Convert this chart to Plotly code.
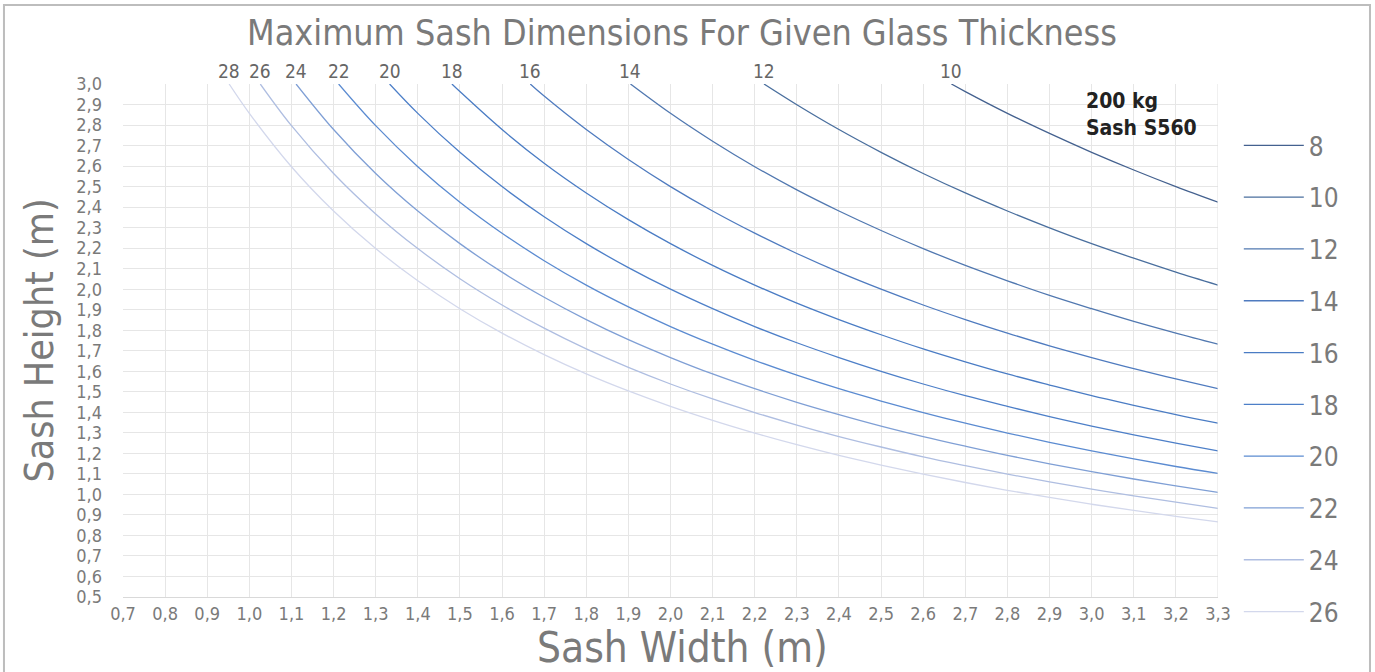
import plotly.graph_objects as go

# Series names as they appear in the legend, and the labels written on top of each curve
legend_names = ["8", "10", "12", "14", "16", "18", "20", "22", "24", "26"]
curve_labels = ["10", "12", "14", "16", "18", "20", "22", "24", "26", "28"]
line_colors = ["#44618f", "#4a6f9e", "#5178b0", "#4f7bbf", "#4a7cc4", "#4d7fc8",
               "#5b8bd1", "#7f9fd5", "#afbee1", "#d3d8ec"]

# Sash width (m) / sash height (m), one list per curve
w_10 = [2.667, 2.7, 2.8, 2.9, 3.0, 3.1, 3.2, 3.3]
h_10 = [3.0, 2.963, 2.857, 2.759, 2.667, 2.581, 2.5, 2.424]

w_12 = [2.222, 2.3, 2.4, 2.5, 2.6, 2.7, 2.8, 2.9, 3.0, 3.1, 3.2, 3.3]
h_12 = [3.0, 2.899, 2.778, 2.667, 2.564, 2.469, 2.381, 2.299, 2.222, 2.151, 2.083, 2.02]

w_14 = [1.905, 2.0, 2.1, 2.2, 2.3, 2.4, 2.5, 2.6, 2.7, 2.8, 2.9, 3.0, 3.1, 3.2, 3.3]
h_14 = [3.0, 2.857, 2.721, 2.597, 2.484, 2.381, 2.286, 2.198, 2.116, 2.041, 1.97, 1.905,
        1.843, 1.786, 1.732]

w_16 = [1.667, 1.7, 1.8, 1.9, 2.0, 2.1, 2.2, 2.3, 2.4, 2.5, 2.6, 2.7, 2.8, 2.9, 3.0, 3.1,
        3.2, 3.3]
h_16 = [3.0, 2.941, 2.778, 2.632, 2.5, 2.381, 2.273, 2.174, 2.083, 2.0, 1.923, 1.852, 1.786,
        1.724, 1.667, 1.613, 1.563, 1.515]

w_18 = [1.481, 1.5, 1.6, 1.7, 1.8, 1.9, 2.0, 2.1, 2.2, 2.3, 2.4, 2.5, 2.6, 2.7, 2.8, 2.9,
        3.0, 3.1, 3.2, 3.3]
h_18 = [3.0, 2.963, 2.778, 2.614, 2.469, 2.339, 2.222, 2.116, 2.02, 1.932, 1.852, 1.778,
        1.709, 1.646, 1.587, 1.533, 1.481, 1.434, 1.389, 1.347]

w_20 = [1.333, 1.4, 1.5, 1.6, 1.7, 1.8, 1.9, 2.0, 2.1, 2.2, 2.3, 2.4, 2.5, 2.6, 2.7, 2.8,
        2.9, 3.0, 3.1, 3.2, 3.3]
h_20 = [3.0, 2.857, 2.667, 2.5, 2.353, 2.222, 2.105, 2.0, 1.905, 1.818, 1.739, 1.667, 1.6,
        1.538, 1.481, 1.429, 1.379, 1.333, 1.29, 1.25, 1.212]

w_22 = [1.212, 1.3, 1.4, 1.5, 1.6, 1.7, 1.8, 1.9, 2.0, 2.1, 2.2, 2.3, 2.4, 2.5, 2.6, 2.7,
        2.8, 2.9, 3.0, 3.1, 3.2, 3.3]
h_22 = [3.0, 2.797, 2.597, 2.424, 2.273, 2.139, 2.02, 1.914, 1.818, 1.732, 1.653, 1.581,
        1.515, 1.455, 1.399, 1.347, 1.299, 1.254, 1.212, 1.173, 1.136, 1.102]

w_24 = [1.111, 1.2, 1.3, 1.4, 1.5, 1.6, 1.7, 1.8, 1.9, 2.0, 2.1, 2.2, 2.3, 2.4, 2.5, 2.6,
        2.7, 2.8, 2.9, 3.0, 3.1, 3.2, 3.3]
h_24 = [3.0, 2.778, 2.564, 2.381, 2.222, 2.083, 1.961, 1.852, 1.754, 1.667, 1.587, 1.515,
        1.449, 1.389, 1.333, 1.282, 1.235, 1.19, 1.149, 1.111, 1.075, 1.042, 1.01]

w_26 = [1.026, 1.1, 1.2, 1.3, 1.4, 1.5, 1.6, 1.7, 1.8, 1.9, 2.0, 2.1, 2.2, 2.3, 2.4, 2.5,
        2.6, 2.7, 2.8, 2.9, 3.0, 3.1, 3.2, 3.3]
h_26 = [3.0, 2.797, 2.564, 2.367, 2.198, 2.051, 1.923, 1.81, 1.709, 1.619, 1.538, 1.465,
        1.399, 1.338, 1.282, 1.231, 1.183, 1.14, 1.099, 1.061, 1.026, 0.993, 0.962, 0.932]

w_28 = [0.952, 1.0, 1.1, 1.2, 1.3, 1.4, 1.5, 1.6, 1.7, 1.8, 1.9, 2.0, 2.1, 2.2, 2.3, 2.4,
        2.5, 2.6, 2.7, 2.8, 2.9, 3.0, 3.1, 3.2, 3.3]
h_28 = [3.0, 2.857, 2.597, 2.381, 2.198, 2.041, 1.905, 1.786, 1.681, 1.587, 1.504, 1.429,
        1.361, 1.299, 1.242, 1.19, 1.143, 1.099, 1.058, 1.02, 0.985, 0.952, 0.922, 0.893, 0.866]

widths = [w_10, w_12, w_14, w_16, w_18, w_20, w_22, w_24, w_26, w_28]
heights = [h_10, h_12, h_14, h_16, h_18, h_20, h_22, h_24, h_26, h_28]

note_lines = ["200 kg", "Sash S560"]

narrow = "DejaVu Sans Condensed, DejaVu Sans, sans-serif"
grey = "#7a7a7a"


def nfont(size, color):
    return dict(family=narrow, size=size, color=color)


fig = go.Figure()

for name, lab, col, xs, ys in zip(legend_names, curve_labels, line_colors, widths, heights):
    fig.add_trace(go.Scatter(x=xs, y=ys, name=name, mode="lines", legendgroup=name,
                             line=dict(color=col, width=1.3, shape="spline", smoothing=1.0)))
    # label above the start of each curve
    fig.add_annotation(x=xs[0], y=ys[0], text=lab, showarrow=False, yanchor="bottom",
                       font=nfont(19, "#666666"))

fig.add_annotation(xref="paper", yref="paper", x=0.878, y=0.995, xanchor="left", yanchor="top",
                   text="<b>" + "<br>".join(note_lines) + "</b>", showarrow=False, align="left",
                   font=nfont(21, "#222222"))

# x axis title, sits a bit right of the plot centre in the original
fig.add_annotation(xref="paper", yref="paper", x=0.511, y=-0.046, xanchor="center", yanchor="top",
                   text="Sash Width (m)", showarrow=False, font=nfont(42, grey))

# grey frame around the whole chart
fig.add_shape(type="rect", xref="paper", yref="paper", x0=-0.1087, x1=1.1388, y0=-0.2, y1=1.154,
              line=dict(color="#bdbdbd", width=2), layer="below")

fig.update_layout(
    width=1375, height=672,
    margin=dict(l=123, r=157, t=84, b=75),
    paper_bgcolor="white", plot_bgcolor="white",
    separators=",.",
    title=dict(text="Maximum Sash Dimensions For Given Glass Thickness", x=0.496, xanchor="center",
               y=0.951, yanchor="middle", font=nfont(35.6, grey)),
    legend=dict(x=1.019, xanchor="left", y=0.926, yanchor="top", tracegroupgap=15, itemwidth=60,
                maxheight=640, font=nfont(26, grey), bgcolor="rgba(0,0,0,0)"),
    xaxis=dict(range=[0.7, 3.3], dtick=0.1, tick0=0.7, tickformat=".1f", showgrid=True,
               gridcolor="#e6e6e6", zeroline=False, showline=True, linecolor="#d9d9d9",
               ticks="", tickfont=nfont(18, grey)),
    yaxis=dict(range=[0.5, 3.0], dtick=0.1, tick0=0.5, tickformat=".1f", showgrid=True,
               gridcolor="#e6e6e6", zeroline=False, showline=False, ticks="",
               ticklabelstandoff=20, tickfont=nfont(18, grey),
               title=dict(text="Sash Height (m)", standoff=10, font=nfont(39, grey))),
)
fig.add_shape(type="line", xref="x", yref="paper", x0=3.3, x1=3.3, y0=0, y1=1,
              line=dict(color="#e0e0e0", width=1))

# the page's default body margin would shift the figure by 8 px
fig.write_html("out.html", config={"displayModeBar": False},
               post_script="document.body.style.margin='0px';")
